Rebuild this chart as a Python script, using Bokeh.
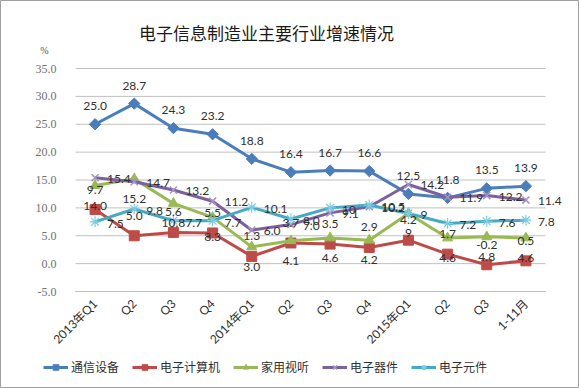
from math import pi
from bokeh.plotting import figure
from bokeh.models import (Range1d, FixedTicker, ColumnDataSource, LabelSet, Label,
                          Legend, LegendItem)
from bokeh.core.properties import value
from bokeh.embed import file_html
from bokeh.resources import INLINE

# ---------------- data ----------------
categories = ["2013年Q1", "Q2", "Q3", "Q4", "2014年Q1", "Q2", "Q3", "Q4",
              "2015年Q1", "Q2", "Q3", "1-11月"]
series_names = ["通信设备", "电子计算机", "家用视听", "电子器件", "电子元件"]

comm = [25.0, 28.7, 24.3, 23.2, 18.8, 16.4, 16.7, 16.6, 12.5, 11.8, 13.5, 13.9]
computer = [9.7, 5.0, 5.6, 5.5, 1.3, 3.7, 3.5, 2.9, 4.2, 1.7, -0.2, 0.5]
av = [14.0, 15.2, 10.8, 8.3, 3.0, 4.1, 4.6, 4.2, 9.0, 4.6, 4.8, 4.6]
devices = [15.4, 14.7, 13.2, 11.2, 6.0, 7.0, 9.1, 10.2, 14.2, 11.9, 12.2, 11.4]
components = [7.5, 9.8, 7.7, 7.7, 10.1, 8.0, 10.0, 10.5, 9.0, 7.2, 7.6, 7.8]

comm_labels = ["25.0", "28.7", "24.3", "23.2", "18.8", "16.4", "16.7", "16.6",
               "12.5", "11.8", "13.5", "13.9"]
computer_labels = ["9.7", "5.0", "5.6", "5.5", "1.3", "3.7", "3.5", "2.9",
                   "4.2", "1.7", "-0.2", "0.5"]
av_labels = ["14.0", "15.2", "10.8", "8.3", "3.0", "4.1", "4.6", "4.2",
             "9", "4.6", "4.8", "4.6"]
devices_labels = ["15.4", "14.7", "13.2", "11.2", "6.0", "7.0", "9.1", "10.2",
                  "14.2", "11.9", "12.2", "11.4"]
components_labels = ["7.5", "9.8", "7.7", "7.7", "10.1", "8.0", "10", "10.5",
                     "9", "7.2", "7.6", "7.8"]

yticks = [-5, 0, 5, 10, 15, 20, 25, 30, 35]
ytick_labels = ["-5.0", "0.0", "5.0", "10.0", "15.0", "20.0", "25.0", "30.0", "35.0"]

title_text = "电子信息制造业主要行业增速情况"
unit_text = "%"

# ---------------- layout (pixels) ----------------
W, H = 579, 388
plot_left, plot_right = 75, 545      # pixel extent of the category span
plot_top, plot_bottom = 68, 291      # pixel extent of the value span

x = list(range(len(categories)))
x_lo, x_hi = -0.5, len(categories) - 0.5
y_lo, y_hi = yticks[0], yticks[-1]
px_x = (plot_right - plot_left) / (x_hi - x_lo)
px_y = (plot_bottom - plot_top) / (y_hi - y_lo)

p = figure(width=W, height=H,
           x_range=Range1d(x_lo - plot_left / px_x, x_hi + (W - plot_right) / px_x),
           y_range=Range1d(y_lo - (H - plot_bottom) / px_y, y_hi + plot_top / px_y),
           output_backend="svg", toolbar_location=None,
           min_border_left=0, min_border_right=0, min_border_top=0, min_border_bottom=0)
p.outline_line_color = "#a0a0a0"
p.outline_line_width = 1
p.background_fill_color = "white"
p.border_fill_color = "white"

p.xgrid.visible = False
p.ygrid.visible = False
# horizontal gridlines limited to the category span
p.segment(x0=[x_lo] * len(yticks), x1=[x_hi] * len(yticks), y0=yticks, y1=yticks,
          line_color="#c0c0c0", line_width=1)

p.yaxis.fixed_location = x_lo
p.yaxis.ticker = FixedTicker(ticks=yticks)
p.yaxis.major_label_overrides = {t: s for t, s in zip(yticks, ytick_labels)}
p.yaxis.axis_line_color = None
p.yaxis.major_tick_line_color = None
p.yaxis.minor_tick_line_color = None
p.yaxis.major_label_standoff = 13
p.yaxis.major_label_text_font = "Liberation Serif"
p.yaxis.major_label_text_font_size = "12px"
p.yaxis.major_label_text_color = "#707070"

p.xaxis.fixed_location = y_lo
p.xaxis.ticker = FixedTicker(ticks=x)
p.xaxis.bounds = (x_lo, x_hi)
p.xaxis.major_label_overrides = {i: c for i, c in zip(x, categories)}
p.xaxis.major_label_orientation = pi / 4
p.xaxis.axis_line_color = "#c0c0c0"
p.xaxis.major_tick_line_color = None
p.xaxis.minor_tick_line_color = None
p.xaxis.major_label_standoff = 4
p.xaxis.major_label_text_font = "Lato, Noto Sans CJK SC"
p.xaxis.major_label_text_font_size = "12px"
p.xaxis.major_label_text_color = "#303030"

colors = ["#4A7EBB", "#BE4B48", "#98B954", "#7D60A0", "#46AAC5"]
marker_line = ["#4A7EBB", "#BE4B48", "#98B954", "#A593C2", "#7FCCE0"]
all_vals = [comm, computer, av, devices, components]
all_labels = [comm_labels, computer_labels, av_labels, devices_labels, components_labels]

items = []
for i, (name, vals) in enumerate(zip(series_names, all_vals)):
    src = ColumnDataSource(dict(x=x, y=vals))
    lr = p.line("x", "y", source=src, line_color=colors[i], line_width=3)
    if i == 0:
        sr = p.scatter("x", "y", source=src, marker="square", angle=pi / 4, size=8,
                       fill_color=colors[i], line_color=colors[i])
    elif i == 1:
        sr = p.scatter("x", "y", source=src, marker="square", size=10,
                       fill_color=colors[i], line_color=colors[i])
    elif i == 2:
        sr = p.scatter("x", "y", source=src, marker="triangle", size=10,
                       fill_color=colors[i], line_color=colors[i])
    elif i == 3:
        sr = p.scatter("x", "y", source=src, marker="x", size=10,
                       line_color=marker_line[i], line_width=1.5)
    else:
        sr = p.scatter("x", "y", source=src, marker="asterisk", size=11,
                       line_color=marker_line[i], line_width=1.2)
    items.append(LegendItem(label=name, renderers=[lr, sr]))

# data labels
offsets = [  # (x_offset, y_offset, align)
    (0, 18, "center"),
    (0, 20, "center"),
    (0, -20, "center"),
    (12, -1, "left"),
    (12, -2, "left"),
]
for vals, labs, (dx, dy, al) in zip(all_vals, all_labels, offsets):
    src = ColumnDataSource(dict(x=x, y=vals, t=labs))
    ls = LabelSet(x="x", y="y", text="t", source=src, x_offset=dx, y_offset=dy,
                  text_align=al, text_baseline="middle",
                  text_font=value("Lato"), text_font_size="12px", text_color="#303030")
    p.add_layout(ls)

# title and unit
p.add_layout(Label(x=x_lo, y=y_hi, x_offset=191, y_offset=36, text=title_text,
                   text_align="center", text_baseline="middle",
                   text_font="Noto Sans CJK SC", text_font_size="17px",
                   text_color="#1a1a1a"))
p.add_layout(Label(x=x_lo, y=y_hi, x_offset=-31, y_offset=18, text=unit_text,
                   text_align="center", text_baseline="middle",
                   text_font="Liberation Serif", text_font_size="10px",
                   text_color="#555555"))

legend = Legend(items=items, orientation="horizontal", location=(43, 13),
                padding=0, margin=0, border_line_color=None,
                background_fill_alpha=0, glyph_width=25, glyph_height=14,
                label_standoff=3, spacing=13,
                label_text_font="Noto Sans CJK SC", label_text_font_size="12px",
                label_text_color="#303030")
p.add_layout(legend, "center")

open("out.html", "w").write(file_html(p, INLINE))
